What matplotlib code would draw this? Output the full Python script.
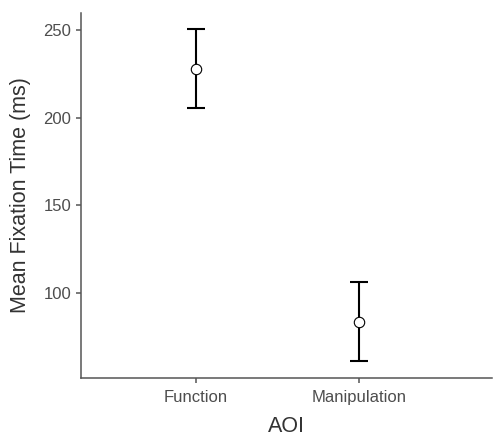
import matplotlib.pyplot as plt

plt.rcParams['font.family'] = ['Liberation Sans', 'DejaVu Sans']

aoi = ['Function', 'Manipulation']
mean_time = [227.6, 83.6]
lower = [205.3, 61.2]
upper = [250.4, 106.3]

x = list(range(1, len(aoi) + 1))
err = [[m - l for m, l in zip(mean_time, lower)],
       [u - m for m, u in zip(mean_time, upper)]]

fig = plt.figure(figsize=(4.94, 4.37), dpi=100)
ax = fig.add_axes([81 / 494, 1 - 378 / 437, 411 / 494, 365 / 437])

ax.errorbar(x, mean_time, yerr=err, fmt='none', ecolor='black',
            elinewidth=1.5, capsize=6.8, capthick=1.5, zorder=2)
ax.plot(x, mean_time, 'o', ms=7.5, mfc='white', mec='black', mew=0.8, zorder=3)

ax.set_xlim(0.294, 2.816)
ax.set_ylim(51.5, 259.7)
ax.set_xticks(x)
ax.set_xticklabels(aoi)
ax.set_yticks([100, 150, 200, 250])

for s in ['top', 'right']:
    ax.spines[s].set_visible(False)
for s in ['left', 'bottom']:
    ax.spines[s].set_color('#555555')
    ax.spines[s].set_linewidth(1.1)
ax.tick_params(colors='#555555', labelcolor='#4d4d4d', labelsize=12,
               length=3.5, width=1.1)
ax.tick_params(axis='x', pad=5)

ax.set_xlabel('AOI', fontsize=15.5, color='#333333', labelpad=8)
ax.set_ylabel('Mean Fixation Time (ms)', fontsize=15.5, color='#333333', labelpad=9)

fig.savefig('out.png', dpi=100)
